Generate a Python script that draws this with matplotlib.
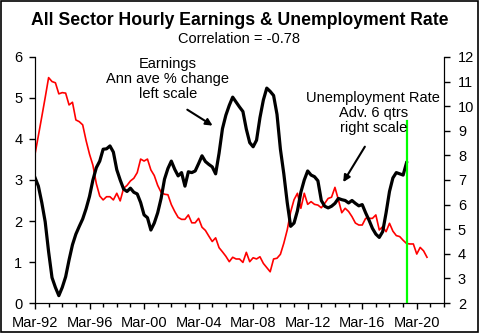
import matplotlib
matplotlib.use("Agg")
import matplotlib.pyplot as plt
import numpy as np
from matplotlib.patches import Rectangle

plt.rcParams['font.family'] = ['Liberation Sans', 'DejaVu Sans']

# quarterly series, first point Mar-92
earnings = [
    3.06, 2.85, 2.45, 1.98, 1.25, 0.62, 0.38, 0.18, 0.38, 0.64,
    1.05, 1.42, 1.68, 1.87, 2.05, 2.30, 2.60, 3.00, 3.30, 3.46,
    3.75, 3.76, 3.83, 3.68, 3.25, 3.00, 2.78, 2.72, 2.80, 2.70,
    2.66, 2.45, 2.15, 2.08, 1.78, 1.95, 2.20, 2.55, 3.02, 3.28,
    3.46, 3.26, 3.10, 3.18, 2.85, 3.20, 3.18, 3.22, 3.40, 3.59,
    3.45, 3.38, 3.32, 3.15, 3.65, 4.25, 4.58, 4.82, 5.02, 4.90,
    4.78, 4.67, 4.24, 3.91, 3.81, 3.97, 4.52, 4.95, 5.24, 5.16,
    5.06, 4.60, 3.75, 3.15, 2.45, 1.87, 1.95, 2.25, 2.70, 3.00,
    3.22, 3.12, 3.08, 2.98, 2.50, 2.36, 2.32, 2.36, 2.43, 2.55,
    2.52, 2.50, 2.44, 2.50, 2.43, 2.37, 2.40, 2.20, 2.02, 1.82,
    1.68, 1.60, 1.74, 2.20, 2.72, 3.05, 3.18, 3.15, 3.12, 3.42,
]

# unemployment rate, advanced 6 quarters
unemployment = [
    8.04, 8.80, 9.57, 10.35, 11.16, 11.00, 10.95, 10.50, 10.55, 10.53,
    10.05, 10.16, 9.44, 9.37, 9.24, 8.60, 8.05, 7.60, 6.85, 6.35,
    6.19, 6.32, 6.32, 6.19, 6.46, 6.15, 6.66, 6.78, 6.96, 7.07,
    7.30, 7.85, 7.77, 7.85, 7.41, 7.18, 6.78, 6.50, 6.42, 6.40,
    6.00, 5.72, 5.48, 5.40, 5.40, 5.58, 5.26, 5.26, 5.44, 5.08,
    4.95, 4.72, 4.50, 4.65, 4.25, 4.08, 3.90, 3.68, 3.86, 3.79,
    3.79, 3.65, 4.06, 3.68, 3.84, 3.79, 3.88, 3.61, 3.44, 3.27,
    3.79, 3.82, 3.98, 4.43, 4.97, 5.70, 6.20, 6.46, 5.85, 6.46,
    6.01, 6.12, 6.01, 5.98, 5.87, 6.05, 6.25, 6.30, 6.70, 6.20,
    5.67, 5.85, 5.72, 5.51, 5.25, 5.17, 5.17, 5.44, 5.44, 5.44,
    5.58, 4.97, 5.10, 4.90, 5.24, 4.92, 4.74, 4.70, 4.55, 4.42,
    4.40, 4.40, 3.99, 4.26, 4.12, 3.86,
]

tick_labels = ['Mar-92', 'Mar-96', 'Mar-00', 'Mar-04',
               'Mar-08', 'Mar-12', 'Mar-16', 'Mar-20']
latest_quarter = 27.3   # years after Mar-92
correlation = -0.78

t_earn = np.arange(len(earnings)) * 0.25
t_unemp = np.arange(len(unemployment)) * 0.25

fig = plt.figure(figsize=(4.79, 3.33), dpi=100)
ax = fig.add_axes([0.073, 0.09, 0.854, 0.739])
ax2 = ax.twinx()
ax.set_zorder(ax2.get_zorder() + 1)
ax.patch.set_visible(False)

ax2.plot(t_unemp, unemployment, color='#ff0000', lw=1.2)
ax.plot(t_earn, earnings, color='black', lw=2.3, solid_joinstyle='round')
ax.plot([latest_quarter, latest_quarter], [0, 4.44], color='#00ff00', lw=1.6)

ax.set_xlim(0, 30)
ax.set_ylim(0, 6)
ax2.set_ylim(2, 12)
ax.set_xticks(np.arange(0, 29, 4))
ax.set_xticklabels(tick_labels)
ax.set_xticks(np.arange(0, 31, 1), minor=True)
ax.set_yticks(range(0, 7))
ax2.set_yticks(range(2, 13))

for a in (ax, ax2):
    a.spines['top'].set_visible(False)
    a.tick_params(axis='both', which='major', direction='out', length=4,
                  width=1, labelsize=10.5, pad=5, colors='black')
    a.tick_params(axis='x', which='minor', direction='out', length=3, width=1)
ax2.tick_params(axis='y', pad=6)

ax.text(9.75, 5.47, 'Earnings\nAnn ave % change\nleft scale', ha='center',
        va='center', fontsize=10.5, linespacing=1.1)
ax.annotate('', xy=(13.2, 4.29), xytext=(11.0, 4.75),
            arrowprops=dict(arrowstyle='-|>', color='black', lw=1.5,
                            mutation_scale=10))

ax.text(24.8, 4.63, 'Unemployment Rate\nAdv. 6 qtrs\nright scale', ha='center',
        va='center', fontsize=10.5, linespacing=1.1)
ax.annotate('', xy=(22.5, 2.89), xytext=(24.3, 3.87),
            arrowprops=dict(arrowstyle='-|>', color='black', lw=1.5,
                            mutation_scale=10))

fig.text(0.5, 0.937, 'All Sector Hourly Earnings & Unemployment Rate',
         ha='center', va='center', fontsize=12.7, fontweight='bold')
fig.text(0.5, 0.884, f'Correlation = {correlation:.2f}', ha='center',
         va='center', fontsize=10.5)

fig.patches.append(Rectangle((0.002, 0.003), 0.996, 0.994, transform=fig.transFigure,
                             fill=False, edgecolor='black', lw=1.2))

fig.savefig('out.png', dpi=100)
